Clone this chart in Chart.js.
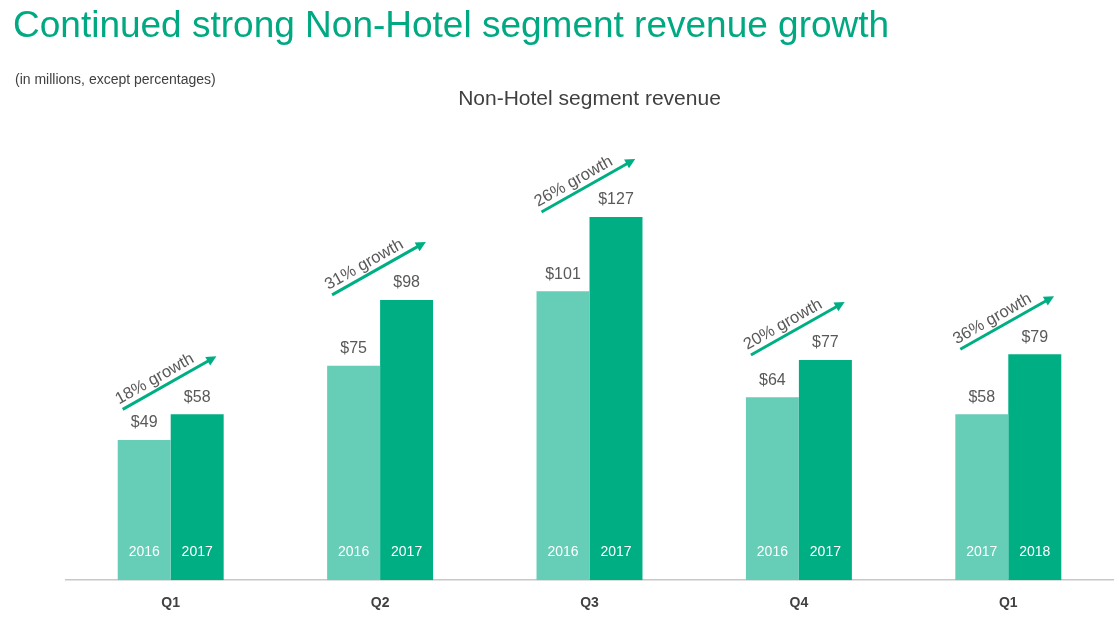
<!DOCTYPE html>
<html>
<head>
<meta charset="utf-8">
<script src="https://cdn.jsdelivr.net/npm/chart.js@4.4.0/dist/chart.umd.min.js"></script>
<style>
  html, body { margin: 0; padding: 0; background: #ffffff; width: 1119px; height: 617px; overflow: hidden; }
  #wrap { position: absolute; left: 0; top: 0; width: 1119px; height: 632px; }
  #headline { position: absolute; left: 13px; top: 4px; font-family: "Liberation Sans", Arial, sans-serif; font-size: 37px; color: #00A982; white-space: nowrap; }
  #sub { position: absolute; left: 15px; top: 71px; font-family: "Liberation Sans", Arial, sans-serif; font-size: 14px; color: #404040; white-space: nowrap; }
</style>
</head>
<body>
<div id="wrap"><canvas id="c" width="1119" height="632"></canvas></div>
<div id="headline">Continued strong Non-Hotel segment revenue growth</div>
<div id="sub">(in millions, except percentages)</div>
<script>
const categories = ["Q1", "Q2", "Q3", "Q4", "Q1"];
const priorValues = [49, 75, 101, 64, 58];
const currentValues = [58, 98, 127, 77, 79];
const priorYears = ["2016", "2016", "2016", "2016", "2017"];
const currentYears = ["2017", "2017", "2017", "2017", "2018"];
const growthLabels = ["18% growth", "31% growth", "26% growth", "20% growth", "36% growth"];
const chartTitle = "Non-Hotel segment revenue";

const LIGHT = "#66CDB7";
const DARK = "#00AE84";
const FONT = '"Liberation Sans", Arial, sans-serif';

const annotate = {
  id: "annotate",
  afterDatasetsDraw(chart) {
    const ctx = chart.ctx;
    const m0 = chart.getDatasetMeta(0).data;
    const m1 = chart.getDatasetMeta(1).data;
    const xs = chart.scales.x;
    const ys = chart.scales.y;
    ctx.save();
    [[m0, priorValues, priorYears], [m1, currentValues, currentYears]].forEach(([meta, vals, yrs]) => {
      meta.forEach((bar, i) => {
        ctx.font = "16px " + FONT;
        ctx.fillStyle = "#595959";
        ctx.textAlign = "center";
        ctx.textBaseline = "middle";
        ctx.fillText("$" + vals[i], bar.x, bar.y - 17);
        ctx.font = "14px " + FONT;
        ctx.fillStyle = "#ffffff";
        ctx.fillText(yrs[i], bar.x, ys.getPixelForValue(0) - 28);
      });
    });
    categories.forEach((c, i) => {
      const cx = xs.getPixelForValue(i);
      const topY = m1[i].y;
      const x2 = cx + 44, y2 = topY - 57;
      const x1 = cx - 48, y1 = y2 + 52;
      const ang = Math.atan2(y2 - y1, x2 - x1);
      ctx.strokeStyle = DARK;
      ctx.fillStyle = DARK;
      ctx.lineWidth = 3;
      ctx.beginPath();
      ctx.moveTo(x1, y1);
      ctx.lineTo(x2 - 6 * Math.cos(ang), y2 - 6 * Math.sin(ang));
      ctx.stroke();
      ctx.save();
      ctx.translate(x2, y2);
      ctx.rotate(ang);
      ctx.beginPath();
      ctx.moveTo(2, 0);
      ctx.lineTo(-8, -5);
      ctx.lineTo(-8, 5);
      ctx.closePath();
      ctx.fill();
      ctx.restore();
      const mx = (x1 + x2) / 2, my = (y1 + y2) / 2;
      ctx.save();
      ctx.translate(mx, my);
      ctx.rotate(ang);
      ctx.font = "16.5px " + FONT;
      ctx.fillStyle = "#595959";
      ctx.textAlign = "center";
      ctx.textBaseline = "alphabetic";
      ctx.fillText(growthLabels[i], -10, -6);
      ctx.restore();
    });
    ctx.restore();
  }
};

new Chart(document.getElementById("c"), {
  type: "bar",
  data: {
    labels: categories,
    datasets: [
      { data: priorValues, backgroundColor: LIGHT, borderWidth: 0, categoryPercentage: 0.506, barPercentage: 1.0 },
      { data: currentValues, backgroundColor: DARK, borderWidth: 0, categoryPercentage: 0.506, barPercentage: 1.0 }
    ]
  },
  options: {
    responsive: false,
    animation: false,
    devicePixelRatio: 1,
    layout: { padding: { left: 66, right: 6, top: 87, bottom: 5 } },
    plugins: {
      legend: { display: false },
      tooltip: { enabled: false },
      title: {
        display: true,
        text: chartTitle,
        color: "#404040",
        font: { family: FONT, size: 21, weight: "normal" },
        padding: { top: 0, bottom: 39 }
      }
    },
    scales: {
      x: {
        grid: { display: false, drawTicks: false },
        border: { display: true, color: "#C8C8C8", width: 1.5 },
        ticks: { color: "#404040", font: { family: FONT, size: 14, weight: "bold" }, padding: 15 }
      },
      y: {
        display: false,
        min: 0,
        max: 150
      }
    }
  },
  plugins: [annotate]
});
</script>
</body>
</html>
